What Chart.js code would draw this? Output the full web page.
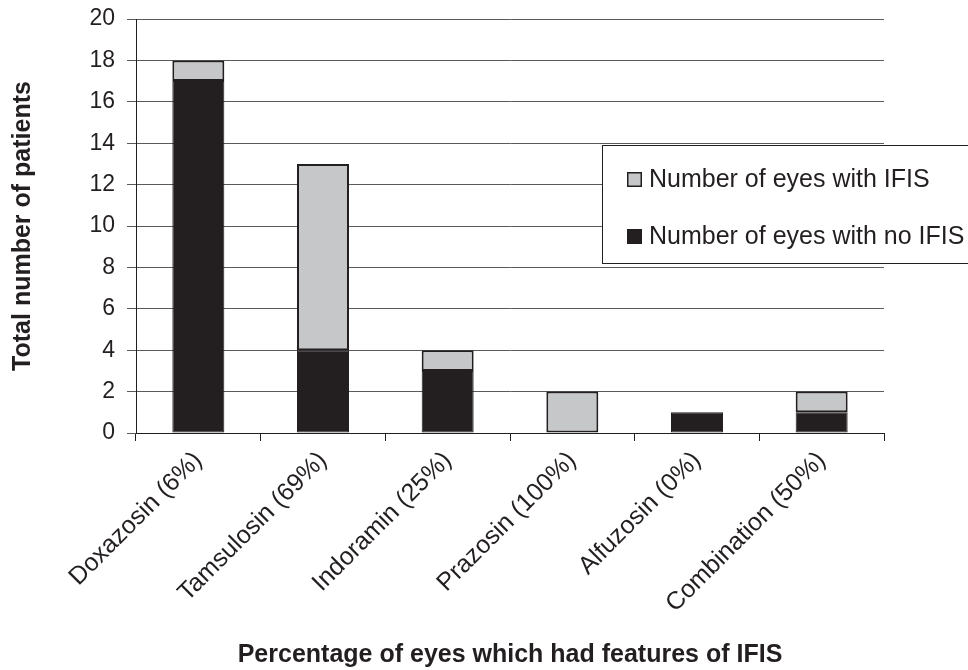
<!DOCTYPE html>
<html>
<head>
<meta charset="utf-8">
<script src="https://cdn.jsdelivr.net/npm/chart.js@4.4.1/dist/chart.umd.min.js"></script>
<style>
html,body{margin:0;padding:0;background:#fff;}
#wrap{width:968px;height:670px;}
</style>
</head>
<body>
<div id="wrap"><canvas id="c" width="968" height="670"></canvas></div>
<script>
const categories = ["Doxazosin (6%)", "Tamsulosin (69%)", "Indoramin (25%)", "Prazosin (100%)", "Alfuzosin (0%)", "Combination (50%)"];
const noIfis = [17, 4, 3, 0, 1, 1];
const withIfis = [1, 9, 1, 2, 0, 1];
const yTicks = [0, 2, 4, 6, 8, 10, 12, 14, 16, 18, 20];

const INK = '#231f20';
const GREY = '#c6c7c8';
const FONT = 'Arial, "Liberation Sans", sans-serif';

const legendPlugin = {
  id: 'boxLegend',
  afterDraw(chart) {
    const ctx = chart.ctx;
    const x0 = 602, y0 = 145, w = 380, h = 118;
    ctx.save();
    ctx.fillStyle = '#fff';
    ctx.fillRect(x0, y0, w, h);
    ctx.strokeStyle = INK;
    ctx.lineWidth = 1;
    ctx.strokeRect(x0 + 0.5, y0 + 0.5, w, h);
    const items = [chart.data.datasets[1], chart.data.datasets[0]];
    const rows = [179, 236];
    ctx.font = '25px ' + FONT;
    ctx.textBaseline = 'middle';
    items.forEach((ds, i) => {
      const y = rows[i];
      ctx.fillStyle = ds.backgroundColor;
      ctx.fillRect(627, y - 7, 15, 15);
      ctx.strokeStyle = INK;
      ctx.lineWidth = 1.5;
      ctx.strokeRect(627.75, y - 6.25, 13.5, 13.5);
      ctx.fillStyle = INK;
      ctx.fillText(ds.label, 649, y + 1);
    });
    ctx.restore();
  }
};

new Chart(document.getElementById('c'), {
  type: 'bar',
  data: {
    labels: categories,
    datasets: [
      { label: 'Number of eyes with no IFIS', data: noIfis, backgroundColor: INK, borderColor: INK, borderWidth: 1, borderSkipped: false, categoryPercentage: 1, barPercentage: 0.417 },
      { label: 'Number of eyes with IFIS', data: withIfis, backgroundColor: GREY, borderColor: INK, borderWidth: 2, borderSkipped: false, categoryPercentage: 1, barPercentage: 0.417 }
    ]
  },
  options: {
    responsive: false,
    animation: false,
    devicePixelRatio: 1,
    layout: { padding: { left: 0, right: 84, top: 19, bottom: 0 } },
    plugins: { legend: { display: false }, tooltip: { enabled: false } },
    scales: {
      x: {
        stacked: true,
        afterFit(axis) { axis.height = 237; axis.paddingLeft = 0; axis.paddingRight = 0; },
        grid: { drawOnChartArea: false, color: INK, tickLength: 8, offset: true },
        border: { color: INK, width: 1 },
        ticks: { color: INK, font: { family: FONT, size: 25 }, maxRotation: 45, minRotation: 45, padding: 5 },
        title: { display: true, text: 'Percentage of eyes which had features of IFIS', color: INK, font: { family: FONT, size: 25, weight: 'bold' }, padding: { top: 0, bottom: 0 } }
      },
      y: {
        stacked: true,
        min: 0, max: 20,
        afterFit(axis) { axis.width = 136; axis.paddingTop = 0; axis.paddingBottom = 0; },
        afterBuildTicks(axis) { axis.ticks = yTicks.map(v => ({ value: v })); },
        grid: { color: '#5a5a5a', lineWidth: 1, tickLength: 9 },
        border: { color: INK, width: 1 },
        ticks: { color: INK, font: { family: FONT, size: 23 }, padding: 12 },
        title: { display: true, text: 'Total number of patients', color: INK, font: { family: FONT, size: 25, weight: 'bold' }, padding: { top: 8, bottom: 0 } }
      }
    }
  },
  plugins: [legendPlugin]
});
</script>
</body>
</html>
